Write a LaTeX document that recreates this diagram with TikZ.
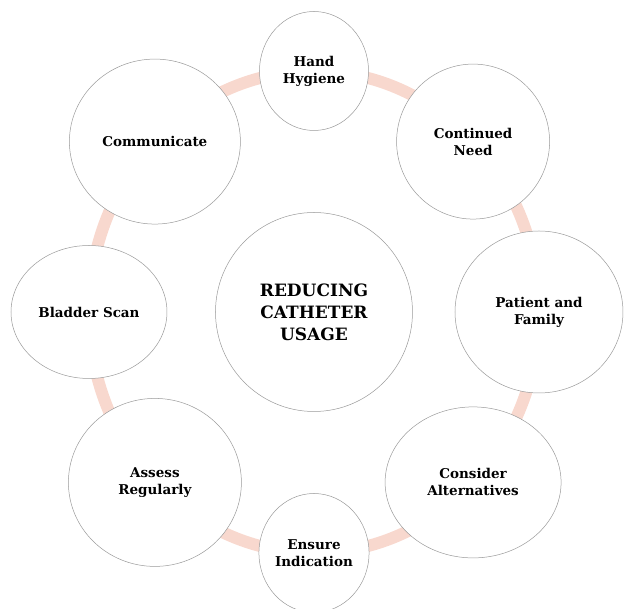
\documentclass[tikz,border=0pt]{standalone}
\usepackage{fontspec}
\setmainfont{DejaVu Serif}
\usetikzlibrary{shapes.geometric,backgrounds}
\definecolor{ringpink}{HTML}{F8D8CE}
\definecolor{rimgray}{HTML}{9A9A9A}

\begin{document}
\begin{tikzpicture}[
    bubble/.style={ellipse, draw=rimgray, line width=0.5pt, fill=white,
      inner sep=0pt, align=center, font=\bfseries\fontsize{13.5}{17}\selectfont},
    ring/.style={draw=ringpink, line width=12pt}]
  \useasboundingbox (-314pt,-297pt) rectangle (311pt,312pt);

  % centre
  \node[bubble, minimum width=197pt, minimum height=199pt,
    font=\bfseries\fontsize{17}{22}\selectfont] (hub) at (0,0) {REDUCING\\CATHETER\\USAGE};

  % the eight steps round it
  \node[bubble, minimum width=109pt, minimum height=119pt] (hand) at (90:225pt and 241pt) {Hand\\Hygiene};
  \node[bubble, minimum width=153pt, minimum height=155pt] (need) at (45:225pt and 241pt) {Continued\\Need};
  \node[bubble, minimum width=168pt, minimum height=162pt] (family) at (0:225pt and 241pt) {Patient and\\Family};
  \node[bubble, minimum width=176pt, minimum height=151pt] (alt) at (-45:225pt and 241pt) {Consider\\Alternatives};
  \node[bubble, minimum width=109pt, minimum height=119pt] (indic) at (-90:225pt and 241pt) {Ensure\\Indication};
  \node[bubble, minimum width=173pt, minimum height=168pt] (assess) at (-135:225pt and 241pt) {Assess\\Regularly};
  \node[bubble, minimum width=156pt, minimum height=133pt] (scan) at (180:225pt and 241pt) {Bladder Scan};
  \node[bubble, minimum width=171pt, minimum height=165pt] (comm) at (135:225pt and 241pt) {Communicate};

  \begin{scope}[on background layer]
    \draw[ring] (hub.center) ellipse [x radius=225pt, y radius=241pt];
  \end{scope}
\end{tikzpicture}
\end{document}
